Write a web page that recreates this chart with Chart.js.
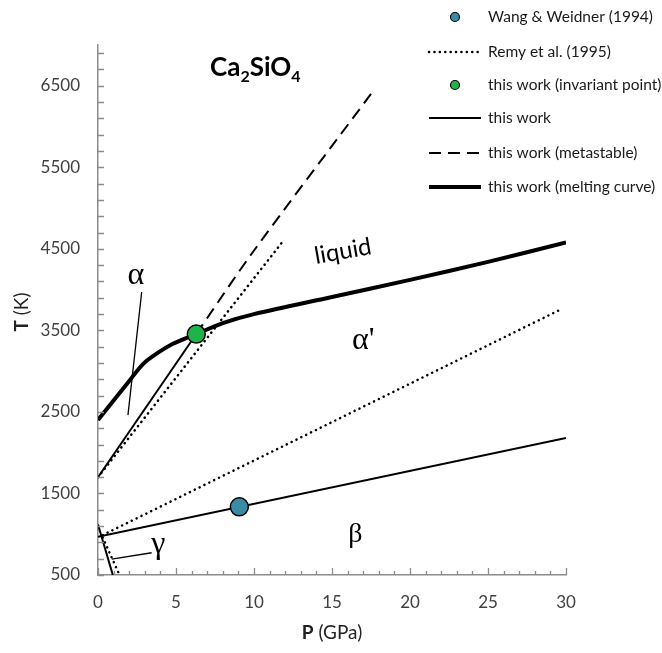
<!DOCTYPE html>
<html>
<head>
<meta charset="utf-8">
<title>Ca2SiO4 phase diagram</title>
<script src="https://cdn.jsdelivr.net/npm/chart.js@4.4.1/dist/chart.umd.min.js"></script>
<style>
  html, body { margin: 0; padding: 0; background: #fff; }
  #wrap { width: 662px; height: 653px; }
</style>
</head>
<body>
<div id="wrap"><canvas id="phaseChart" width="662" height="653"></canvas></div>
<script>
// P (GPa) and T (K)
const meltP = [0, 2, 2.9, 3.8, 4.8, 5.9, 6.3, 8, 10, 15, 20, 25, 30];
const meltT = [2400, 2880, 3090, 3220, 3335, 3425, 3455, 3590, 3700, 3910, 4120, 4340, 4580];

const alphaP = [0, 6.3];
const alphaT = [1700, 3455];
const metaP = [6.3, 9.85, 17.5];
const metaT = [3455, 4440, 6400];
const betaP = [0, 30];
const betaT = [970, 2180];
const gammaP = [0, 0.95];
const gammaT = [1120, 500];

const remyAlphaP = [0, 11.8];
const remyAlphaT = [1700, 4580];
const remyBetaP = [0.3, 29.8];
const remyBetaT = [990, 3770];
const remyGammaP = [0.3, 1.38];
const remyGammaT = [960, 500];

const wangP = [9.06];
const wangT = [1336];
const invariantP = [6.3];
const invariantT = [3455];

// leader lines for the alpha and gamma labels
const alphaLeadP = [2.8, 1.92];
const alphaLeadT = [3970, 2460];
const gammaLeadP = [0.88, 3.44];
const gammaLeadT = [696, 773];

const xLabels = [0, 5, 10, 15, 20, 25, 30];
const yLabels = [500, 1500, 2500, 3500, 4500, 5500, 6500];
const yMinorStep = 200;

// phase field labels, in data coordinates
const phaseText = ['α', 'γ', 'β', 'α\'', 'liquid'];
const phaseP = [2.43, 3.87, 16.5, 17.0, 15.7];
const phaseT = [4173, 867, 990, 3377, 4470];

const legendItems = [
  'Wang & Weidner (1994)',
  'Remy et al. (1995)',
  'this work (invariant point)',
  'this work',
  'this work (metastable)',
  'this work (melting curve)'
];

const pts = (ps, ts) => ps.map((p, i) => ({ x: p, y: ts[i] }));

const DOT = [0.1, 5.3];
const DASH = [12, 7];
const AXIS = '#8c8c8c';
const TXT = '#404040';

function lineSet(data, width, dash, tension) {
  return {
    data: data,
    showLine: true,
    borderColor: '#000',
    borderWidth: width,
    borderDash: dash || [],
    borderCapStyle: dash === DOT ? 'round' : 'butt',
    pointRadius: 0,
    tension: tension || 0,
    order: 2
  };
}

const decor = {
  id: 'decor',
  afterDraw(chart) {
    const ctx = chart.ctx;
    const x = chart.scales.x, y = chart.scales.y;
    const area = chart.chartArea;
    ctx.save();

    // inward tick marks on both axes
    ctx.strokeStyle = AXIS;
    ctx.lineWidth = 1.3;
    ctx.beginPath();
    x.ticks.forEach(t => {
      const px = Math.round(x.getPixelForValue(t.value)) + 0.5;
      const len = xLabels.includes(t.value) ? 7 : 4;
      ctx.moveTo(px, area.bottom);
      ctx.lineTo(px, area.bottom - len);
    });
    y.ticks.forEach(t => {
      const py = Math.round(y.getPixelForValue(t.value)) + 0.5;
      ctx.moveTo(area.left, py);
      ctx.lineTo(area.left + 6, py);
    });
    ctx.stroke();

    ctx.fillStyle = '#000';

    // phase labels
    phaseText.forEach((t, i) => {
      ctx.save();
      ctx.translate(x.getPixelForValue(phaseP[i]), y.getPixelForValue(phaseT[i]));
      if (t === 'liquid') {
        ctx.rotate(-10 * Math.PI / 180);
        ctx.font = '24px Lato';
      } else if (t === 'β') {
        ctx.font = '28px "Liberation Serif"';
      } else {
        ctx.font = '32px "Liberation Serif"';
      }
      ctx.textAlign = 'center';
      ctx.textBaseline = 'middle';
      ctx.fillText(t, 0, 0);
      ctx.restore();
    });

    // title Ca2SiO4
    const parts = [['Ca', 26, 0], ['2', 16, 6], ['SiO', 26, 0], ['4', 16, 6]];
    let tx = 210;
    ctx.textAlign = 'left';
    ctx.textBaseline = 'alphabetic';
    parts.forEach(p => {
      ctx.font = 'bold ' + p[1] + 'px Lato';
      ctx.fillText(p[0], tx, 76 + p[2]);
      tx += ctx.measureText(p[0]).width;
    });

    // axis titles: bold symbol + unit
    function axisTitle(sym, unit, cx, cy, rot) {
      ctx.save();
      ctx.translate(cx, cy);
      ctx.rotate(rot);
      ctx.fillStyle = '#222';
      ctx.textBaseline = 'middle';
      ctx.font = 'bold 19px Lato';
      const w1 = ctx.measureText(sym).width;
      ctx.font = '19px Lato';
      const w2 = ctx.measureText(unit).width;
      const sx = -(w1 + w2) / 2;
      ctx.font = 'bold 19px Lato';
      ctx.fillText(sym, sx, 0);
      ctx.font = '19px Lato';
      ctx.fillText(unit, sx + w1, 0);
      ctx.restore();
    }
    axisTitle('T', ' (K)', 22, 312, -Math.PI / 2);
    axisTitle('P', ' (GPa)', 332, 633, 0);

    // legend
    const rowY = [17, 52, 85, 118, 153, 187];
    legendItems.forEach((label, i) => {
      const yy = rowY[i];
      ctx.save();
      ctx.strokeStyle = '#000';
      if (i === 0 || i === 2) {
        ctx.beginPath();
        ctx.arc(455, yy, 4.5, 0, Math.PI * 2);
        ctx.fillStyle = i === 0 ? '#3a8ca6' : '#1fb34a';
        ctx.fill();
        ctx.lineWidth = 1.2;
        ctx.stroke();
      } else {
        ctx.beginPath();
        if (i === 1) { ctx.setLineDash(DOT); ctx.lineCap = 'round'; ctx.lineWidth = 2.5; }
        if (i === 3) { ctx.lineWidth = 2; }
        if (i === 4) { ctx.setLineDash(DASH); ctx.lineWidth = 2; }
        if (i === 5) { ctx.lineWidth = 4; }
        ctx.moveTo(429, yy);
        ctx.lineTo(481, yy);
        ctx.stroke();
      }
      ctx.restore();
      ctx.fillStyle = '#1a1a1a';
      ctx.font = '15.5px Lato';
      ctx.textAlign = 'left';
      ctx.textBaseline = 'middle';
      ctx.fillText(label, 488, yy);
    });
    ctx.restore();
  }
};

new Chart(document.getElementById('phaseChart'), {
  type: 'scatter',
  data: {
    datasets: [
      {
        label: 'Wang & Weidner (1994)',
        data: pts(wangP, wangT),
        pointRadius: 9,
        pointBackgroundColor: '#3a8ca6',
        pointBorderColor: '#000',
        pointBorderWidth: 1.5,
        order: 0
      },
      {
        label: 'this work (invariant point)',
        data: pts(invariantP, invariantT),
        pointRadius: 9,
        pointBackgroundColor: '#1fb34a',
        pointBorderColor: '#000',
        pointBorderWidth: 1.5,
        order: 0
      },
      lineSet(pts(meltP, meltT), 4, null, 0.3),
      lineSet(pts(alphaP, alphaT), 2),
      lineSet(pts(metaP, metaT), 2, DASH, 0.3),
      lineSet(pts(betaP, betaT), 2),
      lineSet(pts(gammaP, gammaT), 2),
      lineSet(pts(remyAlphaP, remyAlphaT), 2.5, DOT),
      lineSet(pts(remyBetaP, remyBetaT), 2.5, DOT),
      lineSet(pts(remyGammaP, remyGammaT), 2.5, DOT),
      lineSet(pts(alphaLeadP, alphaLeadT), 1.3),
      lineSet(pts(gammaLeadP, gammaLeadT), 1.3)
    ]
  },
  options: {
    responsive: false,
    animation: false,
    layout: { padding: { top: 45, right: 96, left: 0, bottom: 0 } },
    plugins: {
      legend: { display: false },
      tooltip: { enabled: false }
    },
    scales: {
      x: {
        type: 'linear',
        min: 0,
        max: 30,
        border: { color: AXIS, width: 1.5 },
        grid: { drawOnChartArea: false, drawTicks: false },
        ticks: {
          stepSize: 1,
          autoSkip: false,
          maxRotation: 0,
          padding: 17,
          color: TXT,
          font: { family: 'Lato', size: 17 },
          callback: v => xLabels.includes(v) ? String(v) : ''
        },
        afterFit: s => { s.height = 78; }
      },
      y: {
        type: 'linear',
        min: 500,
        max: 7000,
        border: { color: AXIS, width: 1.5 },
        grid: { drawOnChartArea: false, drawTicks: false },
        ticks: {
          autoSkip: false,
          padding: 18,
          color: TXT,
          font: { family: 'Lato', size: 17 },
          callback: v => yLabels.includes(v) ? String(v) : ''
        },
        afterBuildTicks: s => {
          const list = [];
          for (let v = s.min; v < s.max; v += yMinorStep) list.push({ value: v });
          s.ticks = list;
        },
        afterFit: s => { s.width = 98; }
      }
    }
  },
  plugins: [decor]
});
</script>
</body>
</html>
